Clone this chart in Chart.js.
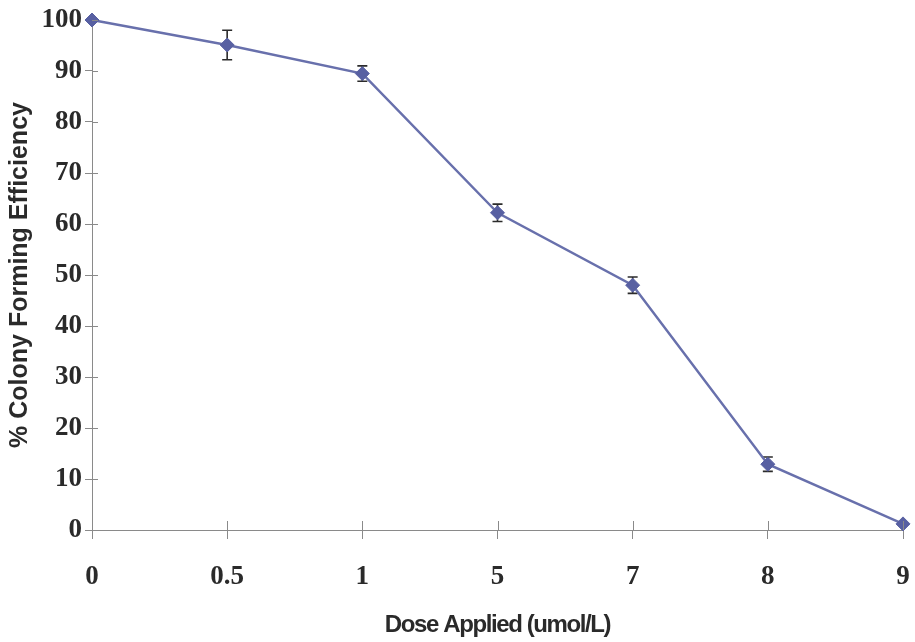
<!DOCTYPE html>
<html>
<head>
<meta charset="utf-8">
<script src="https://cdn.jsdelivr.net/npm/chart.js@4/dist/chart.umd.min.js"></script>
<style>
  html, body { margin: 0; padding: 0; background: #ffffff; }
  #wrap { width: 915px; height: 642px; }
</style>
</head>
<body>
<div id="wrap"><canvas id="c" width="915" height="642"></canvas></div>
<script>
// Dose levels (umol/L) and colony forming efficiency (%) with standard error
const doses = ['0', '0.5', '1', '5', '7', '8', '9'];
const cfe = [100, 95.1, 89.5, 62.2, 48.0, 12.9, 1.2];
const cfeErr = [0, 2.9, 1.5, 1.7, 1.6, 1.4, 0];
const yTicks = [0, 10, 20, 30, 40, 50, 60, 70, 80, 90, 100];

const xTitle = 'Dose Applied (umol/L)';
const yTitle = '% Colony Forming Efficiency';

const axisColor = '#8a8a8a';
const lineColor = '#6870ac';
const markColor = '#5860a2';

// Vertical error bars, drawn beneath the markers
const errorBars = {
  id: 'errorBars',
  beforeDatasetsDraw(chart) {
    const { ctx, scales: { x, y } } = chart;
    ctx.save();
    ctx.strokeStyle = '#2b2b2b';
    ctx.lineWidth = 1.6;
    cfe.forEach((v, i) => {
      const e = cfeErr[i];
      if (!e) return;
      const px = x.getPixelForValue(i);
      const top = y.getPixelForValue(v + e);
      const bot = y.getPixelForValue(v - e);
      ctx.beginPath();
      ctx.moveTo(px, top); ctx.lineTo(px, bot);
      ctx.moveTo(px - 5, top); ctx.lineTo(px + 5, top);
      ctx.moveTo(px - 5, bot); ctx.lineTo(px + 5, bot);
      ctx.stroke();
    });
    ctx.restore();
  }
};

// Tick marks that cross the axis lines, plus the condensed x-axis title
const axisExtras = {
  id: 'axisExtras',
  afterDraw(chart) {
    const { ctx, scales: { x, y }, chartArea } = chart;
    ctx.save();
    ctx.strokeStyle = axisColor;
    ctx.lineWidth = 1;
    ctx.beginPath();
    y.ticks.forEach((t, i) => {
      const py = Math.round(y.getPixelForTick(i)) + 0.5;
      ctx.moveTo(chartArea.left, py); ctx.lineTo(chartArea.left + 6, py);
    });
    x.ticks.forEach((t, i) => {
      const px = Math.round(x.getPixelForTick(i)) + 0.5;
      ctx.moveTo(px, chartArea.bottom); ctx.lineTo(px, chartArea.bottom - 9);
    });
    ctx.stroke();

    ctx.fillStyle = '#2a2a2a';
    ctx.font = 'bold 24px "Liberation Sans", Arial, sans-serif';
    ctx.letterSpacing = '-1.4px';
    ctx.textAlign = 'center';
    ctx.textBaseline = 'middle';
    ctx.fillText(xTitle, (chartArea.left + chartArea.right) / 2, 625);
    ctx.restore();
  }
};

new Chart(document.getElementById('c'), {
  type: 'line',
  data: {
    labels: doses,
    datasets: [{
      data: cfe,
      borderColor: lineColor,
      borderWidth: 2.4,
      backgroundColor: markColor,
      pointStyle: 'rectRot',
      pointRadius: 7,
      pointBorderColor: markColor,
      pointBackgroundColor: markColor,
      pointBorderWidth: 1,
      tension: 0,
      clip: false
    }]
  },
  options: {
    responsive: false,
    animation: false,
    devicePixelRatio: 1,
    layout: { padding: { top: 20, right: 12, left: 0, bottom: 0 } },
    plugins: { legend: { display: false }, tooltip: { enabled: false } },
    scales: {
      x: {
        type: 'category',
        offset: false,
        afterFit(s) { s.height = 112; s.paddingLeft = 0; s.paddingRight = 0; },
        grid: { drawOnChartArea: false, drawTicks: true, tickLength: 9, color: axisColor },
        border: { color: axisColor, width: 1 },
        ticks: {
          color: '#2a2a2a',
          padding: 22,
          maxRotation: 0,
          font: { family: '"Liberation Serif", "Times New Roman", serif', weight: 'bold', size: 27 }
        }
      },
      y: {
        min: 0,
        max: 100,
        afterFit(s) { s.width = 92; },
        afterBuildTicks(s) { s.ticks = yTicks.map(v => ({ value: v })); },
        grid: { drawOnChartArea: false, drawTicks: true, tickLength: 7, color: axisColor },
        border: { color: axisColor, width: 1 },
        ticks: {
          color: '#2a2a2a',
          padding: 3,
          font: { family: '"Liberation Serif", "Times New Roman", serif', weight: 'bold', size: 27 }
        },
        title: {
          display: true,
          text: yTitle,
          color: '#2a2a2a',
          padding: { top: 5, bottom: 0 },
          font: { family: '"Liberation Sans", Arial, sans-serif', weight: 'bold', size: 25 }
        }
      }
    }
  },
  plugins: [errorBars, axisExtras]
});
</script>
</body>
</html>
